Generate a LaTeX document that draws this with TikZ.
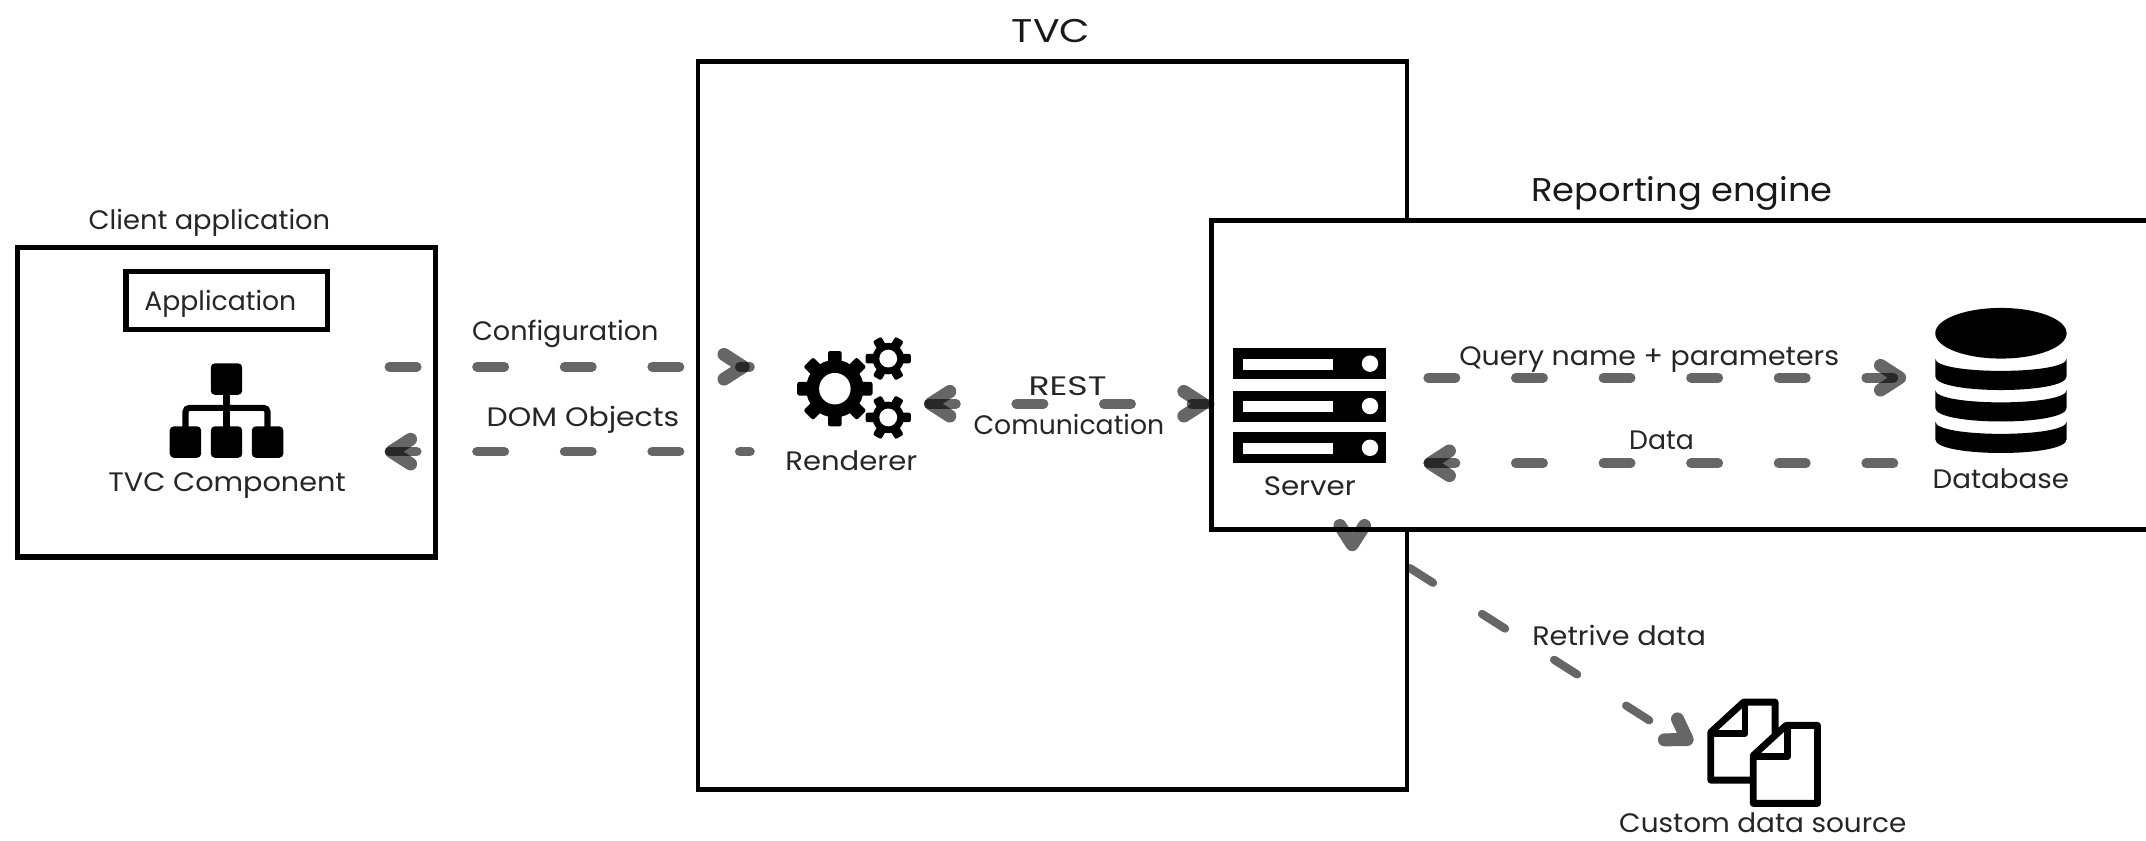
\documentclass[tikz,border=0pt]{standalone}
\usepackage{graphicx}
\usepackage{fontspec}
\setmainfont{Poppins}
\newcommand{\fsz}[1]{\fontsize{#1pt}{#1pt}\selectfont}
\newcommand{\sx}[2]{\scalebox{#1}[1]{#2}}
\tikzset{
  canvas/.style={x=1pt,y=-1pt},
  boxnode/.style={draw=black,fill=white,rectangle,inner sep=0pt,line width=3.4pt},
  lbl/.style={inner sep=0pt,text=black!85,font=\fsz{19.5}},
  title/.style={inner sep=0pt,text=black!90,font=\fsz{24}},
  link/.style={draw=black,opacity=.6,line width=7pt,line cap=round,dash pattern=on 20pt off 44pt,dash phase=60.5pt},
  slant/.style={link,line width=6pt,dash pattern=on 20pt off 42.4pt,dash phase=59.4pt},
  chevron/.style={draw=black,opacity=.6,line width=9.5pt,line cap=round,line join=round},
  docsheet/.style={draw=black,fill=white,line width=5pt,line join=round}
}
% arrow head: #1 named tip, #2 direction on the canvas
\newcommand{\ahead}[2]{\path[chevron,shift={(#1)},rotate=#2] (-19,-9) -- (-5,0) -- (-19,9);}
% gear: #1 x, #2 y, #3 body radius, #4 outer radius, #5 hole radius, #6 teeth, #7 tooth width
\newcommand{\gearicon}[7]{%
  \begin{scope}[shift={(#1,#2)}]
    \fill[black] (0,0) circle[radius=#3];
    \foreach \k in {1,...,#6}{
      \fill[black,rounded corners=1.5pt,rotate=360*\k/#6] (0,-#7/2) rectangle (#4,#7/2);
    }
    \fill[white] (0,0) circle[radius=#5];
  \end{scope}}
\newcommand{\dblayer}[1]{%
  \fill[black] (1414,#1) .. controls (1414,#1+12) and (1510,#1+12) .. (1510,#1)
    -- (1510,#1+13) .. controls (1510,#1+26.3) and (1414,#1+26.3) .. (1414,#1+13) -- cycle;}
\newcommand{\serverbar}[1]{%
  \fill[black] (901,#1) rectangle (1013,#1+22.5);
  \fill[white] (908,#1+7.5) rectangle (974,#1+15.5);
  \fill[white] (1001,#1+11.2) circle[radius=6];}
\newcommand{\treecell}[2]{\fill[black,rounded corners=3pt] (#1-11.5,#2) rectangle (#1+11.5,#2+23);}
\begin{document}
\begin{tikzpicture}[canvas]
\useasboundingbox (0,0) rectangle (1568,614.4);
\fill[white] (0,0) rectangle (1568,614.4);

% named ends of the connectors
\coordinate (cfgA) at (281,268);   \coordinate (cfgB) at (548,268);
\coordinate (domA) at (281,330);   \coordinate (domB) at (548,330);
\coordinate (restA) at (675,295);  \coordinate (restB) at (884,295);
\coordinate (qryA) at (1040,276);  \coordinate (qryB) at (1393,276);
\coordinate (datA) at (1040,338.5);\coordinate (datB) at (1390,338.5);
\coordinate (getA) at (975,380);   \coordinate (getB) at (1236,546);
\coordinate (getTip) at (1237,543);
\coordinate (getHead) at (988,403);

% retrieve line runs behind the two boxes
\draw[slant] (getA) -- (getB);

\node[boxnode,minimum width=518pt,minimum height=532pt] (tvc) at (769,311) {};
\node[boxnode,minimum width=695pt,minimum height=226pt] (engine) at (1232.5,274) {};
\node[boxnode,line width=3.8pt,minimum width=305pt,minimum height=226pt] (client) at (165.5,294) {};
\node[boxnode,line width=3.8pt,minimum width=147pt,minimum height=42pt] (app) at (165.5,219.5) {};

\node[title] (tvcT) at (768,23) {\sx{1.2}{TVC}};
\node[title] (engineT) at (1229,141.5) {\sx{1.073}{Reporting engine}};
\node[lbl] (clientT) at (153,163) {\sx{1.023}{Client application}};
\node[lbl] (appT) at (161,222) {Application};
\node[lbl] (compT) at (166,355) {\sx{1.075}{TVC Component}};
\node[lbl] (rendT) at (622,336.5) {\sx{1.09}{Renderer}};
\node[lbl] (srvT) at (957,355) {\sx{1.1}{Server}};
\node[lbl] (dbT) at (1462,350) {\sx{1.04}{Database}};
\node[lbl] (srcT) at (1288,601.5) {\sx{1.045}{Custom data source}};
\node[lbl] (cfgT) at (413,244) {\sx{1.015}{Configuration}};
\node[lbl] (domT) at (426,306.5) {\sx{1.12}{DOM Objects}};
\node[lbl] (restT) at (780,282.5) {\sx{1.3}{REST}};
\node[lbl] (comT) at (781,310) {Comunication};
\node[lbl] (qryT) at (1205,262.5) {\sx{1.065}{Query name + parameters}};
\node[lbl] (datT) at (1214,322) {Data};
\node[lbl] (getT) at (1183,464.5) {\sx{1.075}{Retrive data}};

% TVC component icon
\draw[black,line width=4.5pt,line join=round] (165.5,288) -- (165.5,312);
\draw[black,line width=4.5pt,rounded corners=3pt] (135.5,312) -- (135.5,298) -- (195.5,298) -- (195.5,312);
\treecell{165.5}{265.5}
\treecell{135.5}{311.5}
\treecell{165.5}{311.5}
\treecell{195.5}{311.5}

% renderer gears
\gearicon{610}{284}{21}{27.5}{11.5}{8}{10}
\gearicon{649}{262}{11.5}{16.5}{6.5}{6}{7}
\gearicon{649}{305}{11.5}{16.5}{6.5}{6}{7}

% server icon
\serverbar{254.5}
\serverbar{285.5}
\serverbar{316}

% database icon
\fill[black] (1462,243.5) ellipse[x radius=48,y radius=18.5];
\dblayer{262}
\dblayer{285}
\dblayer{308}

% data source icon
\draw[docsheet] (1250,535) -- (1274,513) -- (1297,513) -- (1297,570) -- (1250,570) -- cycle;
\draw[line width=5pt,line join=round] (1275,513) -- (1275,536) -- (1250,536);
\draw[docsheet] (1281,552) -- (1305,530) -- (1328,530) -- (1328,587) -- (1281,587) -- cycle;
\draw[line width=5pt,line join=round] (1306,530) -- (1306,553) -- (1281,553);

% connectors
\draw[link] (cfgA) -- (cfgB);
\draw[link] (domA) -- (domB);
\draw[link] (restA) -- (restB);
\draw[link] (qryA) -- (qryB);
\draw[link] (datA) -- (datB);

\ahead{cfgB}{0}
\ahead{domA}{180}
\ahead{restA}{180}
\ahead{restB}{0}
\ahead{qryB}{0}
\ahead{datA}{180}
\ahead{getTip}{-32}
\ahead{getHead}{-90}
\end{tikzpicture}
\end{document}
